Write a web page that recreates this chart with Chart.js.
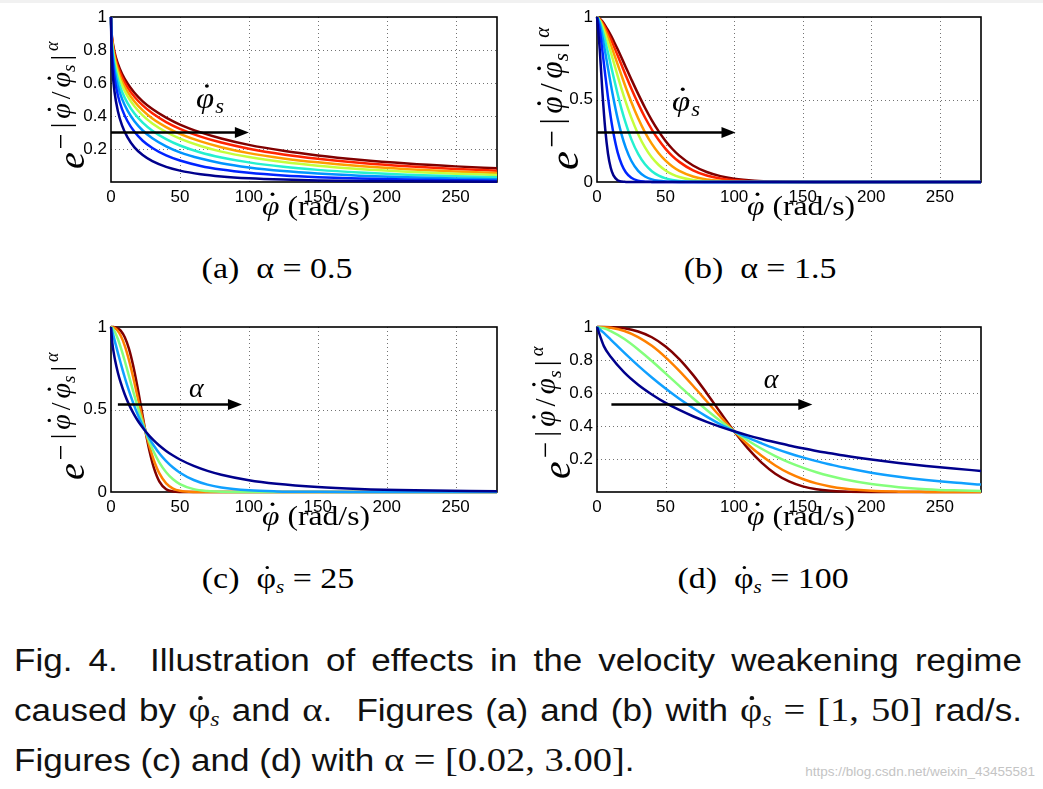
<!DOCTYPE html>
<html>
<head>
<meta charset="utf-8">
<script src="https://cdn.jsdelivr.net/npm/chart.js@4.4.0/dist/chart.umd.min.js"></script>
<style>
  body { margin: 0; width: 1043px; height: 789px; background: #fff; position: relative; overflow: hidden; font-family: "Liberation Sans", Arial, sans-serif; }
  .topband { position: absolute; left: 0; top: 0; width: 1043px; height: 3px; background: #f1f1f1; }
  canvas { position: absolute; }
  .sub { position: absolute; width: 280px; text-align: center; font-family: "Liberation Serif", serif; font-size: 30px; line-height: 36px; color: #000; transform: scaleX(1.13); transform-origin: 50% 0; }
  .sub i, .fig i { font-style: italic; }
  .sub sub, .fig sub { font-size: 0.62em; vertical-align: -0.25em; line-height: 0; }
  .pd { position: relative; }
  .pd::after { content: ''; position: absolute; left: 50%; top: 0.15em; width: 0.11em; height: 0.11em; margin-left: -0.03em; border-radius: 50%; background: currentColor; }
  .fig { position: absolute; left: 14px; width: 892px; font-size: 31px; line-height: 49px; color: #111; transform: scaleX(1.13); transform-origin: 0 0; }
  .fig div { text-align: justify; text-align-last: justify; }
  .fig div.last { text-align: left; text-align-last: left; }
  .m { font-family: "Liberation Serif", serif; font-size: 1.1em; }
  .wm { position: absolute; right: 8px; top: 764px; font-size: 13.5px; color: #c4c4c4; }
</style>
</head>
<body>
<div class="topband"></div>
<canvas id="pa" width="520" height="240" style="left:0;top:0"></canvas>
<canvas id="pb" width="523" height="240" style="left:520px;top:0"></canvas>
<canvas id="pc" width="520" height="240" style="left:0;top:310px"></canvas>
<canvas id="pd" width="523" height="240" style="left:520px;top:310px"></canvas>

<div class="sub" style="left:137px;top:250px">(a)&nbsp; α = 0.5</div>
<div class="sub" style="left:620px;top:250px">(b)&nbsp; α = 1.5</div>
<div class="sub" style="left:138px;top:560px">(c)&nbsp; <span class="pd">φ</span><sub><i>s</i></sub> = 25</div>
<div class="sub" style="left:623px;top:560px">(d)&nbsp; <span class="pd">φ</span><sub><i>s</i></sub> = 100</div>

<div class="fig" style="top:636px">
  <div>Fig. 4.&nbsp; Illustration of effects in the velocity weakening regime</div>
  <div>caused by <span class="m"><span class="pd">φ</span><sub><i>s</i></sub></span> and <span class="m">α</span>.&nbsp; Figures (a) and (b) with <span class="m"><span class="pd">φ</span><sub><i>s</i></sub> = [1, 50]</span> rad/s.</div>
  <div class="last">Figures (c) and (d) with <span class="m">α = [0.02, 3.00]</span>.</div>
</div>
<div class="wm">https://blog.csdn.net/weixin_43455581</div>

<script>
// shared axis ticks
const xTicks = [0, 50, 100, 150, 200, 250];
const yTicksFine = [0.2, 0.4, 0.6, 0.8, 1];
const yTicksCoarse = [0, 0.5, 1];

// (a) alpha = 0.5, eight values of phi_s
const xA = [0, 0.3, 1, 2.5, 5, 8, 12, 17, 23, 30, 40, 50, 65, 80, 100, 125, 150, 180, 215, 250, 280];
const yA1 = [1, .813, .685, .550, .429, .343, .270, .210, .163, .126, .0916, .0691, .0475, .0340, .0228, .0146, .0098, .0063, .0039, .0025, .0018];
const yA2 = [1, .854, .749, .634, .524, .442, .368, .304, .250, .206, .161, .130, .0975, .0756, .0557, .0397, .0292, .0208, .0145, .0104, .0080];
const yA3 = [1, .876, .785, .681, .581, .504, .432, .368, .312, .265, .216, .180, .142, .114, .0884, .0664, .0513, .0386, .0285, .0216, .0173];
const yA4 = [1, .890, .808, .714, .621, .547, .478, .415, .360, .311, .260, .221, .179, .149, .119, .0922, .0735, .0573, .0439, .0344, .0282];
const yA5 = [1, .902, .828, .742, .655, .586, .520, .459, .404, .355, .303, .263, .218, .184, .151, .121, .0988, .0792, .0626, .0504, .0423];
const yA6 = [1, .909, .840, .759, .678, .611, .547, .488, .434, .385, .333, .292, .246, .211, .175, .143, .119, .0968, .0779, .0638, .0543];
const yA7 = [1, .916, .852, .776, .699, .636, .574, .517, .464, .416, .363, .322, .275, .239, .202, .167, .141, .117, .0956, .0795, .0686];
const yA8 = [1, .922, .861, .790, .717, .656, .597, .541, .489, .442, .390, .348, .301, .264, .225, .189, .161, .135, .112, .0947, .0826];

// (b) alpha = 1.5, same phi_s family
const xB = [0, 2, 4, 6, 8, 10, 12, 15, 18, 21, 25, 30, 35, 40, 45, 50, 55, 60, 70, 80, 90, 100, 115, 130, 160, 200, 280];
const yB1 = [1, .803, .538, .320, .173, .0861, .0399, .0111, .0027, .0006, 0, 0, 0, 0, 0, 0, 0, 0, 0, 0, 0, 0, 0, 0, 0, 0, 0];
const yB2 = [1, .920, .790, .649, .514, .395, .295, .181, .106, .0591, .0254, .0080, .0023, .0006, 0, 0, 0, 0, 0, 0, 0, 0, 0, 0, 0, 0, 0];
const yB3 = [1, .955, .877, .786, .690, .596, .506, .386, .286, .207, .129, .0677, .0336, .0158, .0071, .0030, .0013, .0005, 0, 0, 0, 0, 0, 0, 0, 0, 0];
const yB4 = [1, .970, .917, .854, .784, .711, .639, .535, .439, .355, .260, .170, .107, .0655, .0387, .0222, .0123, .0067, .0018, .0004, 0, 0, 0, 0, 0, 0, 0];
const yB5 = [1, .979, .941, .895, .843, .788, .731, .645, .562, .484, .390, .290, .210, .148, .103, .0695, .0461, .0300, .0121, .0045, .0016, .0005, 0, 0, 0, 0, 0];
const yB6 = [1, .984, .955, .918, .877, .833, .786, .714, .643, .573, .485, .386, .301, .231, .174, .129, .0941, .0677, .0336, .0158, .0071, .0030, .0008, .0002, 0, 0, 0];
const yB7 = [1, .987, .964, .936, .902, .866, .828, .768, .707, .646, .567, .475, .391, .318, .254, .201, .157, .122, .0702, .0390, .0208, .0107, .0037, .0012, .0001, 0, 0];
const yB8 = [1, .990, .972, .948, .920, .890, .857, .806, .751, .696, .623, .534, .450, .374, .307, .249, .200, .160, .100, .0605, .0355, .0200, .0080, .0030, .0004, 0, 0];

// (c) phi_s = 25, five values of alpha
const xC = [0, 1, 2, 3, 5, 7, 10, 13, 16, 19, 22, 25, 28, 31, 35, 40, 45, 50, 60, 70, 80, 100, 120, 150, 180, 220, 280];
const yC1 = [1, .900, .843, .797, .723, .664, .591, .531, .481, .438, .401, .368, .339, .313, .282, .249, .221, .197, .158, .128, .105, .0714, .0499, .0300, .0186, .0102, .0044];
const yC2 = [1, .971, .940, .907, .843, .782, .694, .614, .542, .477, .419, .368, .322, .282, .235, .187, .148, .117, .0728, .0449, .0275, .0101, .0036, .0008, .0002, 0, 0];
const yC3 = [1, .994, .983, .967, .927, .878, .794, .704, .613, .525, .443, .368, .302, .244, .180, .120, .0772, .0482, .0173, .0056, .0016, .0001, 0, 0, 0, 0, 0];
const yC4 = [1, .999, .997, .992, .976, .948, .886, .801, .699, .587, .475, .368, .273, .194, .114, .0525, .0210, .0073, .0006, 0, 0, 0, 0, 0, 0, 0, 0];
const yC5 = [1, 1, .9995, .998, .992, .978, .938, .869, .769, .645, .506, .368, .245, .149, .0643, .0166, .0029, .0003, 0, 0, 0, 0, 0, 0, 0, 0, 0];

// (d) phi_s = 100, same alpha family
const xD = [0, 5, 10, 20, 30, 40, 50, 60, 70, 80, 90, 100, 110, 120, 130, 140, 150, 160, 170, 180, 200, 220, 240, 260, 280];
const yD1 = [1, .884, .819, .723, .650, .591, .540, .497, .459, .425, .395, .368, .343, .321, .301, .282, .265, .249, .235, .221, .197, .176, .158, .142, .128];
const yD2 = [1, .964, .924, .843, .766, .694, .627, .565, .509, .457, .410, .368, .329, .295, .263, .235, .210, .187, .167, .148, .117, .0925, .0728, .0572, .0449];
const yD3 = [1, .992, .975, .927, .864, .794, .719, .643, .568, .497, .430, .368, .312, .262, .218, .180, .148, .120, .0966, .0772, .0482, .0293, .0173, .0099, .0056];
const yD4 = [1, .999, .995, .976, .939, .886, .816, .734, .644, .550, .456, .368, .288, .219, .161, .114, .0788, .0525, .0338, .0210, .0073, .0022, .0006, .0001, 0];
const yD5 = [1, 1, .999, .992, .973, .938, .882, .806, .710, .599, .482, .368, .264, .178, .111, .0643, .0342, .0166, .0073, .0029, .0003, 0, 0, 0, 0];

const jet8 = ['#00008c', '#0024ff', '#0094ff', '#24f0d0', '#c4ff3c', '#ff9c00', '#ff2400', '#800000'];
const jet5 = ['#00008c', '#10a0ff', '#84ff7c', '#ff8000', '#800000'];

const tickFont = { family: '"Liberation Sans", Arial, sans-serif', size: 17 };
const STRETCH = 1.13;

// draw a phi with a dot on top, return its width
function phiDot(ctx, x, y, size) {
  ctx.font = 'italic ' + size + 'px "Liberation Serif"';
  ctx.fillText('\u03c6', x, y);
  const w = ctx.measureText('\u03c6').width;
  ctx.beginPath();
  ctx.arc(x + w * 0.6, y - size * 0.74, size * 0.06, 0, 2 * Math.PI);
  ctx.fill();
  return w;
}

function drawYLabel(ctx, bx, by, k) {
  ctx.save();
  ctx.translate(bx, by);
  ctx.rotate(-Math.PI / 2);
  ctx.fillStyle = '#000';
  ctx.textBaseline = 'alphabetic';
  let x = 0;
  const put = (t, size, dy, italic, gap) => {
    ctx.font = (italic ? 'italic ' : '') + size * k + 'px "Liberation Serif"';
    ctx.fillText(t, x, dy * k);
    x += ctx.measureText(t).width + gap * k;
  };
  put('e', 38, 0, true, 3);
  put('\u2212', 28, -14, false, 5);
  put('|', 28, -14, false, 4);
  x += phiDot(ctx, x, -14 * k, 28 * k) + 4 * k;
  put('/', 28, -14, false, 4);
  x += phiDot(ctx, x, -14 * k, 28 * k);
  put('s', 19, -9, true, 4);
  put('|', 28, -14, false, 4);
  put('\u03b1', 18, -26, true, 0);
  ctx.restore();
}

const deco = {
  id: 'deco',
  beforeDatasetsDraw(chart, args, o) {
    const { ctx, chartArea: a, scales: { x, y } } = chart;
    ctx.save();
    ctx.strokeStyle = 'rgba(0,0,0,0.55)';
    ctx.lineWidth = 1;
    ctx.setLineDash([1, 3]);
    xTicks.forEach(v => {
      if (v <= 0) return;
      const px = Math.round(x.getPixelForValue(v)) + 0.5;
      ctx.beginPath(); ctx.moveTo(px, a.top); ctx.lineTo(px, a.bottom); ctx.stroke();
    });
    o.yTicks.forEach(v => {
      if (v <= 0 || v >= 1) return;
      const py = Math.round(y.getPixelForValue(v)) + 0.5;
      ctx.beginPath(); ctx.moveTo(a.left, py); ctx.lineTo(a.right, py); ctx.stroke();
    });
    ctx.setLineDash([]);
    ctx.strokeStyle = '#000';
    ctx.lineWidth = 1.6;
    ctx.strokeRect(a.left, a.top, a.right - a.left, a.bottom - a.top);
    ctx.restore();
  },
  afterDatasetsDraw(chart, args, o) {
    const { ctx, chartArea: a, scales: { x, y } } = chart;
    ctx.save();
    ctx.fillStyle = '#000';
    ctx.strokeStyle = '#000';
    // arrow
    const ax0 = x.getPixelForValue(o.arrow[0]), ax1 = x.getPixelForValue(o.arrow[1]);
    const ay = y.getPixelForValue(o.arrow[2]);
    ctx.lineWidth = 2.6;
    ctx.beginPath(); ctx.moveTo(ax0, ay); ctx.lineTo(ax1 - 10, ay); ctx.stroke();
    ctx.beginPath(); ctx.moveTo(ax1, ay); ctx.lineTo(ax1 - 14, ay - 5.5); ctx.lineTo(ax1 - 14, ay + 5.5); ctx.closePath(); ctx.fill();
    // arrow label
    const lx = x.getPixelForValue(o.mark[0]), ly = y.getPixelForValue(o.mark[1]);
    if (o.markType === 'phi') {
      ctx.save();
      ctx.translate(lx - 17, ly + 8);
      ctx.scale(STRETCH, 1);
      const w = phiDot(ctx, 0, 0, 29);
      ctx.font = 'italic 20px "Liberation Serif"';
      ctx.fillText('s', w + 1, 5);
      ctx.restore();
    } else {
      ctx.font = 'italic 28px "Liberation Serif"';
      ctx.textAlign = 'center';
      ctx.fillText('\u03b1', lx, ly + 7);
      ctx.textAlign = 'left';
    }
    // axis titles
    drawYLabel(ctx, o.yLabel[0], o.yLabel[1], o.yLabel[2]);
    ctx.save();
    ctx.translate((a.left + a.right) / 2 - 42, a.bottom + 33);
    ctx.scale(STRETCH, 1);
    const w = phiDot(ctx, 0, 0, 28);
    ctx.font = '28px "Liberation Serif"';
    ctx.fillText('(rad/s)', w + 7, 0);
    ctx.restore();
    ctx.restore();
  }
};

function makePanel(id, xs, series, colors, o) {
  const cv = document.getElementById(id);
  return new Chart(cv, {
    type: 'line',
    data: {
      datasets: series.map((ys, i) => ({
        data: xs.map((v, j) => ({ x: v, y: ys[j] })),
        borderColor: colors[i],
        borderWidth: 2.5,
        pointRadius: 0,
        fill: false,
        cubicInterpolationMode: 'monotone',
        clip: 4
      }))
    },
    options: {
      responsive: false,
      animation: false,
      devicePixelRatio: 1,
      events: [],
      layout: { padding: { left: o.left - 40, right: cv.width - o.right, top: 17, bottom: 0 } },
      plugins: { legend: { display: false }, tooltip: { enabled: false }, deco: o },
      scales: {
        x: {
          type: 'linear', min: 0, max: 280,
          afterBuildTicks: s => { s.ticks = xTicks.map(v => ({ value: v })); },
          afterFit: s => { s.height = 58; },
          grid: { display: false, drawTicks: false },
          border: { display: false },
          ticks: { font: tickFont, color: '#000', padding: 5, maxRotation: 0, autoSkip: false, callback: v => String(v) }
        },
        y: {
          type: 'linear', min: 0, max: 1,
          afterBuildTicks: s => { s.ticks = o.yTicks.map(v => ({ value: v })); },
          afterFit: s => { s.width = 40; },
          grid: { display: false, drawTicks: false },
          border: { display: false },
          ticks: { font: tickFont, color: '#000', padding: 4, autoSkip: false, callback: v => String(v) }
        }
      }
    },
    plugins: [deco]
  });
}

makePanel('pa', xA, [yA1, yA2, yA3, yA4, yA5, yA6, yA7, yA8], jet8, {
  left: 111, right: 497, yTicks: yTicksFine,
  arrow: [0, 100, 0.3], mark: [74, 0.5], markType: 'phi', yLabel: [84, 169, 1]
});
makePanel('pb', xB, [yB1, yB2, yB3, yB4, yB5, yB6, yB7, yB8], jet8, {
  left: 77, right: 461, yTicks: yTicksCoarse,
  arrow: [0, 101, 0.3], mark: [67, 0.48], markType: 'phi', yLabel: [58, 170, 1.12]
});
makePanel('pc', xC, [yC1, yC2, yC3, yC4, yC5], jet5, {
  left: 111, right: 497, yTicks: yTicksCoarse,
  arrow: [5, 95, 0.53], mark: [62, 0.62], markType: 'alpha', yLabel: [84, 170, 1]
});
makePanel('pd', xD, [yD1, yD2, yD3, yD4, yD5], jet5, {
  left: 77, right: 461, yTicks: yTicksFine,
  arrow: [10.5, 157, 0.53], mark: [127, 0.67], markType: 'alpha', yLabel: [50, 169, 1.04]
});
</script>
</body>
</html>
